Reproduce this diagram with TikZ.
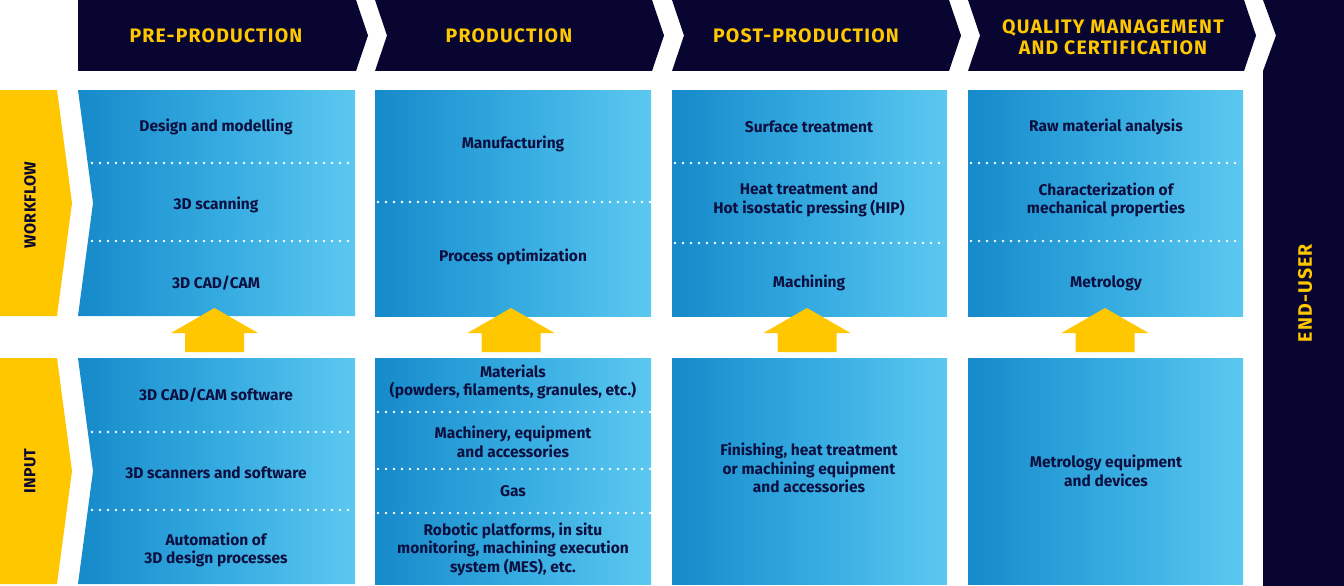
\documentclass[tikz,border=0pt]{standalone}
\usepackage{fontspec}
\setmainfont{Fira Sans}
\definecolor{navy}{RGB}{8,6,48}
\definecolor{ylw}{RGB}{255,199,0}
\definecolor{txt}{RGB}{12,16,64}
\definecolor{bluel}{RGB}{22,138,202}
\definecolor{bluem}{RGB}{52,170,224}
\definecolor{bluer}{RGB}{92,200,240}
\begin{document}
\begin{tikzpicture}[x=1pt,y=-1pt,
  hdr/.style={fill=navy,draw=none},
  hdrtxt/.style={text=ylw,font=\bfseries\fontsize{19.5}{21}\selectfont\addfontfeatures{LetterSpace=6},align=center,inner sep=0pt},
  lbl/.style={fill=ylw,draw=none},
  lbltxt/.style={text=navy,font=\bfseries\fontsize{16}{18}\selectfont\addfontfeatures{LetterSpace=2},rotate=90,inner sep=0pt},
  bluebox/.style={left color=bluel,right color=bluer,middle color=bluem,draw=none},
  itm/.style={text=txt,font=\bfseries\fontsize{15.5}{18.5}\selectfont,align=center,inner sep=0pt},
  sep/.style={white,line width=2.6pt,line cap=round,dash pattern=on 0pt off 8pt},
  uparrow/.style={fill=ylw,draw=none}]
\useasboundingbox (0,0) rectangle (1344,586);
% header chevrons
\path[hdr] (78,0) -- (356,0) -- (368,35.5) -- (356,71) -- (78,71) -- cycle;
\path[hdr] (375,0) -- (652,0) -- (664,35.5) -- (652,71) -- (375,71) -- (387,35.5) -- cycle;
\path[hdr] (672,0) -- (949,0) -- (961,35.5) -- (949,71) -- (672,71) -- (684,35.5) -- cycle;
\path[hdr] (968,0) -- (1244,0) -- (1256,35.5) -- (1244,71) -- (968,71) -- (980,35.5) -- cycle;
\path[hdr] (1263,0) -- (1344,0) -- (1344,586) -- (1263,586) -- (1263,71) -- (1276,35.5) -- cycle;
\node[hdrtxt] (h1) at (216,36) {PRE-PRODUCTION};
\node[hdrtxt] (h2) at (509,36) {PRODUCTION};
\node[hdrtxt] (h3) at (806,36) {POST-PRODUCTION};
\node[hdrtxt] (h4) at (1113,37) {QUALITY MANAGEMENT\\AND CERTIFICATION};
\node[hdrtxt,rotate=90] (eu) at (1305,293) {END-USER};
% yellow labels
\path[lbl] (0,90) -- (57,90) -- (72,203) -- (57,316) -- (0,316) -- cycle;
\path[lbl] (0,358) -- (57,358) -- (72,471) -- (57,584) -- (0,584) -- cycle;
\node[lbltxt] (wf) at (30,205) {WORKFLOW};
\node[lbltxt] (in) at (30,471) {INPUT};
% blue boxes
\path[bluebox] (78,90) -- (355,90) -- (355,316) -- (78,316) -- (93,203) -- cycle;
\path[bluebox] (78,358) -- (355,358) -- (355,584) -- (78,584) -- (93,471) -- cycle;
\path[bluebox] (375,90) rectangle (651,316);
\path[bluebox] (375,358) rectangle (651,584);
\path[bluebox] (672,90) rectangle (947,316);
\path[bluebox] (672,358) rectangle (947,584);
\path[bluebox] (968,90) rectangle (1243,316);
\path[bluebox] (968,358) rectangle (1243,584);
% separators
\foreach \y in {163,241} {\draw[sep] (92,\y) -- (353,\y);}
\draw[sep] (378,202) -- (650,202);
\foreach \y in {163,243} {\draw[sep] (675,\y) -- (946,\y);}
\foreach \y in {163,241} {\draw[sep] (971,\y) -- (1242,\y);}
\foreach \y in {432,510} {\draw[sep] (92,\y) -- (353,\y);}
\foreach \y in {412,469,513} {\draw[sep] (378,\y) -- (650,\y);}
% arrows
\path[uparrow] (214.5,308) -- (258,333) -- (244,333) -- (244,352) -- (185,352) -- (185,333) -- (171,333) -- cycle;
\path[uparrow] (511,308) -- (554.5,333) -- (540.5,333) -- (540.5,352) -- (481.5,352) -- (481.5,333) -- (467.5,333) -- cycle;
\path[uparrow] (807,308) -- (850.5,333) -- (836.5,333) -- (836.5,352) -- (777.5,352) -- (777.5,333) -- (763.5,333) -- cycle;
\path[uparrow] (1105,308) -- (1148.5,333) -- (1134.5,333) -- (1134.5,352) -- (1075.5,352) -- (1075.5,333) -- (1061.5,333) -- cycle;
% workflow texts
\node[itm] (w11) at (216,127) {Design and modelling};
\node[itm] (w12) at (216,205) {3D scanning};
\node[itm] (w13) at (216,283) {3D CAD/CAM};
\node[itm] (w21) at (513,144) {Manufacturing};
\node[itm] (w22) at (513,257) {Process optimization};
\node[itm] (w31) at (809,127) {Surface treatment};
\node[itm] (w32) at (809,200) {Heat treatment and\\Hot isostatic pressing (HIP)};
\node[itm] (w33) at (809,283) {Machining};
\node[itm] (w41) at (1106,127) {Raw material analysis};
\node[itm] (w42) at (1106,200) {Characterization of\\mechanical properties};
\node[itm] (w43) at (1106,283) {Metrology};
% input texts
\node[itm] (i11) at (216,395) {3D CAD/CAM software};
\node[itm] (i12) at (216,473) {3D scanners and software};
\node[itm] (i13) at (216,550) {Automation of\\3D design processes};
\node[itm] (i21) at (513,382) {Materials\\(powders, filaments, granules, etc.)};
\node[itm] (i22) at (513,442) {Machinery, equipment\\and accessories};
\node[itm] (i23) at (513,491) {Gas};
\node[itm] (i24) at (513,549) {Robotic platforms, in situ\\monitoring, machining execution\\system (MES), etc.};
\node[itm] (i31) at (809,468) {Finishing, heat treatment\\or machining equipment\\and accessories};
\node[itm] (i41) at (1106,471) {Metrology equipment\\and devices};
\end{tikzpicture}
\end{document}
